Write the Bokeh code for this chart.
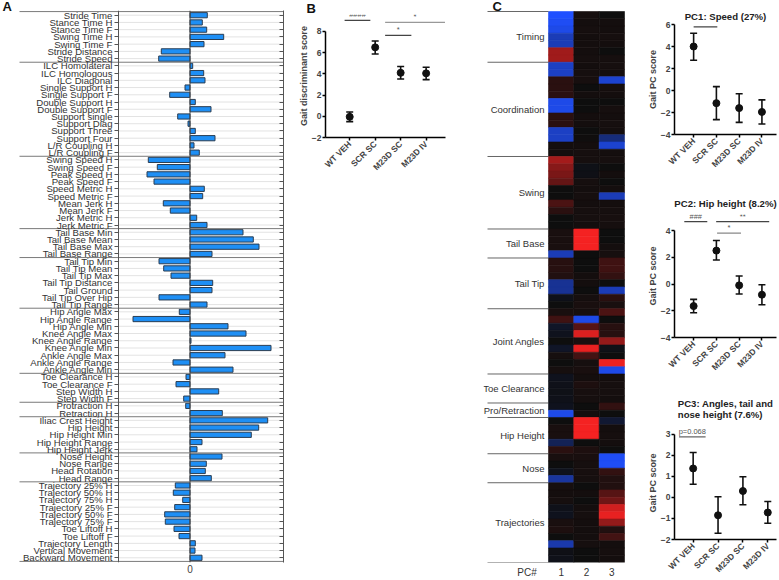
import math
from bokeh.plotting import figure
from bokeh.models import (Range1d, FactorRange, FixedTicker, CategoricalAxis, Span,
                          ColumnDataSource, Whisker, TeeHead, LinearColorMapper, Spacer)
from bokeh.layouts import row, column
from bokeh.embed import file_html
from bokeh.resources import INLINE
from bokeh.core.properties import value

FONT = "Liberation Sans"

# ---------------- data ----------------
features = [
    "Stride Time", "Stance Time H", "Stance Time F", "Swing Time H", "Swing Time F", "Stride Distance", "Stride Speed",
    "ILC Homolateral", "ILC Homologous", "ILC Diagonal", "Single Support H", "Single Support F", "Double Support H",
    "Double Support F", "Support single", "Support Diag", "Support Three", "Support Four", "L/R Coupling H", "L/R Coupling F",
    "Swing Speed H", "Swing Speed F", "Peak Speed H", "Peak Speed F", "Speed Metric H", "Speed Metric F",
    "Mean Jerk H", "Mean Jerk F", "Jerk Metric H", "Jerk Metric F",
    "Tail Base Min", "Tail Base Mean", "Tail Base Max", "Tail Base Range",
    "Tail Tip Min", "Tail Tip Mean", "Tail Tip Max", "Tail Tip Distance", "Tail Ground", "Tail Tip Over Hip", "Tail Tip Range",
    "Hip Angle Max", "Hip Angle Range", "Hip Angle Min", "Knee Angle Max", "Knee Angle Range", "Knee Angle Min",
    "Ankle Angle Max", "Ankle Angle Range", "Ankle Angle Min",
    "Toe Clearance H", "Toe Clearance F", "Step Width H", "Step Width F",
    "Protraction H", "Retraction H",
    "Iliac Crest Height", "Hip Height", "Hip Height Min", "Hip Height Range", "Hip Height Jerk",
    "Nose Height", "Nose Range", "Head Rotation", "Head Range",
    "Trajectory 25% H", "Trajectory 50% H", "Trajectory 75% H", "Trajectory 25% F", "Trajectory 50% F",
    "Trajectory 75% F", "Toe Liftoff H", "Toe Liftoff F", "Trajectory Length", "Vertical Movement", "Backward Movement",
]
bar_values = [
    1.73, 1.23, 1.67, 3.37, 1.40, -2.87, -3.13,
    0.27, 1.37, 1.50, -0.50, -2.03, 0.53, 2.10, -1.23, -0.20, 0.53, 2.50, 0.40, 0.93,
    -4.17, -3.27, -4.30, -3.60, 1.43, 1.27, -2.67, -1.97, 0.67, 1.70,
    5.30, 6.33, 6.90, 2.20,
    -3.10, -2.63, -1.90, 2.27, 2.20, -3.10, 1.70,
    -1.07, -5.70, 3.80, 5.60, 0.10, 8.10, 3.50, -1.70, 4.30,
    -0.40, -1.40, 2.87, -0.63,
    -0.43, 3.23,
    7.77, 6.87, 6.13, 1.20, 0.70,
    3.20, 1.63, 1.53, 2.13,
    -1.47, -1.67, -0.73, -1.53, -2.53, -2.47, -1.60, -1.10, 0.53, 0.50, 1.20,
]
bar_axis_min, bar_axis_max = -7.15, 9.35
sections = ["Timing", "Coordination", "Swing", "Tail Base", "Tail Tip", "Joint Angles",
            "Toe Clearance", "Pro/Retraction", "Hip Height", "Nose", "Trajectories"]
section_sizes = [7, 13, 10, 4, 7, 9, 4, 2, 5, 4, 11]

pc1_loadings = [
    -1.0, -0.95, -0.9, -0.7, -0.7, 0.6, 0.6,
    -0.75, -0.75, 0.12, 0.12, 0.12, -0.9, -0.9, 0.12, 0.12, -0.75, -0.75, 0.02, 0.02,
    0.62, 0.5, 0.45, 0.35, 0.0, 0.0, 0.25, 0.12, 0.0, 0.0,
    0.05, 0.05, 0.05, -0.7,
    0.1, 0.1, 0.08, -0.55, -0.55, -0.05, 0.0,
    0.05, 0.2, -0.1, -0.06, 0.0, -0.1, 0.03, 0.0, 0.03,
    -0.06, -0.05, -0.04, -0.05,
    -0.06, -0.9,
    0.0, 0.05, 0.05, -0.3, 0.12,
    0.05, 0.0, -0.06, -0.6,
    0.03, 0.02, 0.03, -0.05, -0.06, 0.05, 0.06, 0.0, -0.65, -0.03, -0.05,
]
pc2_loadings = [
    0.03, 0.02, 0.03, 0.02, 0.02, 0.02, 0.03,
    0.02, 0.03, 0.04, 0.0, 0.02, 0.0, 0.0, 0.02, 0.02, 0.0, 0.01, 0.02, 0.03,
    0.03, -0.04, -0.03, 0.03, 0.02, 0.03, 0.02, 0.03, 0.03, 0.02,
    0.95, 0.95, 0.95, 0.0,
    0.0, 0.0, 0.02, 0.02, 0.0, 0.03, 0.05,
    0.04, -0.9, 0.3, 0.85, 0.05, 0.9, 0.22, 0.03, 0.05,
    0.02, 0.06, 0.04, 0.03,
    0.0, 0.02,
    0.95, 0.95, 0.95, 0.0, 0.06,
    0.05, 0.03, 0.04, 0.03,
    0.0, 0.02, 0.0, 0.02, 0.03, 0.02, 0.02, 0.02, 0.03, 0.0, 0.0,
]
pc3_loadings = [
    0.0, 0.02, 0.02, 0.03, 0.02, 0.0, 0.03,
    0.03, 0.02, -0.8, 0.03, 0.02, 0.0, 0.03, 0.02, 0.03, 0.02, -0.45, -0.8, 0.02,
    0.03, 0.0, 0.02, 0.0, 0.02, -0.7, 0.02, 0.03, 0.04, 0.03,
    0.0, 0.0, 0.02, 0.04,
    0.2, 0.2, 0.15, 0.0, -0.7, 0.12, 0.05,
    0.25, 0.0, 0.1, 0.1, 0.55, -0.04, 0.0, 0.92, -0.9,
    0.02, 0.03, 0.03, 0.02,
    0.15, 0.0,
    -0.15, 0.02, 0.03, 0.02, 0.0,
    -0.95, -0.95, 0.15, 0.08,
    0.08, 0.3, 0.4, 0.8, 0.9, 0.55, 0.08, 0.22, 0.02, 0.03, 0.02,
]
pc_labels = ["1", "2", "3"]

groups = ["WT VEH", "SCR SC", "M23D SC", "M23D IV"]
B_mean = [-0.05, 6.5, 4.1, 4.05]
B_lo = [-0.5, 5.87, 3.52, 3.46]
B_hi = [0.4, 7.1, 4.7, 4.63]
B_sig_x0 = [-0.2, 1.39, 1.39]
B_sig_x1 = [0.81, 3.74, 2.42]
B_sig_y = [9.05, 8.86, 7.63]
B_sig_text = ["####", "*", "*"]
B_sig_color = ["#444444", "#999999", "#444444"]

PC1_mean = [4.0, -1.15, -1.6, -1.95]
PC1_lo = [2.75, -2.65, -2.9, -3.05]
PC1_hi = [5.2, 0.35, -0.3, -0.85]
PC1_sig_x0 = [0.0]
PC1_sig_x1 = [1.04]
PC1_sig_y = [5.78]
PC1_sig_text = ["#"]
PC1_sig_color = ["#444444"]

PC2_mean = [-1.65, 2.5, -0.1, -0.8]
PC2_lo = [-2.15, 1.8, -0.75, -1.55]
PC2_hi = [-1.15, 3.25, 0.6, -0.05]
PC2_sig_x0 = [-0.41, 0.99, 1.03]
PC2_sig_x1 = [0.6, 3.32, 2.08]
PC2_sig_y = [4.66, 4.66, 3.8]
PC2_sig_text = ["###", "**", "*"]
PC2_sig_color = ["#444444", "#444444", "#888888"]

PC3_mean = [1.37, -0.85, 0.3, -0.72]
PC3_lo = [0.62, -1.7, -0.35, -1.23]
PC3_hi = [2.13, 0.03, 0.98, -0.2]
PC3_sig_x0 = [-0.57]
PC3_sig_x1 = [0.5]
PC3_sig_y = [2.87]
PC3_sig_text = ["p=0.068"]
PC3_sig_color = ["#666666"]

assert len(features) == 76 and len(bar_values) == 76
assert len(pc1_loadings) == 76 and len(pc2_loadings) == 76 and len(pc3_loadings) == 76
assert sum(section_sizes) == 76

N = len(features)
cum = [0]
for s in section_sizes:
    cum.append(cum[-1] + s)


def panel_letter_title(p, text, offset, standoff):
    p.title.text = text
    p.title.align = "left"
    p.title.offset = offset
    p.title.standoff = standoff
    p.title.text_font = FONT
    p.title.text_font_size = "13px"
    p.title.text_font_style = "bold"
    p.title.text_color = "#111111"


# ---------------- Panel A ----------------
A_W, A_H = 287, 580
A_axis_px, A_right_px = 118, 283
a_scale = (A_right_px - A_axis_px) / (bar_axis_max - bar_axis_min)
a_left = bar_axis_min - A_axis_px / a_scale
pA = figure(width=A_W, height=A_H,
            y_range=FactorRange(factors=features[::-1], range_padding=0.15, range_padding_units="absolute"),
            x_range=Range1d(a_left, bar_axis_max), output_backend="svg", toolbar_location=None,
            min_border_left=0, min_border_right=A_W - A_right_px, min_border_top=9, min_border_bottom=15)
pA.outline_line_color = None
pA.grid.grid_line_color = None
pA.segment(x0=[bar_axis_min] * N, x1=[bar_axis_max] * N, y0=features, y1=features,
           line_color="#e3e3e3", line_width=1)
pA.hbar(y=features, right=bar_values, left=0, height=0.72, fill_color="#1e8ff5",
        line_color="#2a3d52", line_width=1)
pA.add_layout(Span(location=0, dimension="height", line_color="#444444", line_width=1))
sep_left = a_left + 19 / a_scale
pA.segment(x0=[sep_left] * len(cum), x1=[bar_axis_max] * len(cum),
           y0=[N - k for k in cum], y1=[N - k for k in cum], line_color="#7a7a7a", line_width=1)
ax = pA.yaxis[0]
ax.fixed_location = bar_axis_min
ax.major_label_text_font = FONT
ax.major_label_text_font_size = "9.6px"
ax.major_label_text_color = "#333333"
ax.major_tick_out = 4
ax.major_tick_in = 0
ax.major_label_standoff = 2
ax.axis_line_color = "#555555"
ax.major_tick_line_color = "#555555"
ra = CategoricalAxis(major_label_text_font_size="0px", major_label_text_color=None,
                     major_label_standoff=0, major_tick_in=4, major_tick_out=0,
                     minor_tick_out=0, minor_tick_in=0,
                     axis_line_color="#555555", major_tick_line_color="#555555")
pA.add_layout(ra, "right")
xa = pA.xaxis[0]
xa.ticker = FixedTicker(ticks=[0])
xa.axis_line_color = None
xa.major_tick_line_color = None
xa.minor_tick_line_color = None
xa.major_tick_out = 0
xa.minor_tick_out = 0
xa.major_label_text_font = FONT
xa.major_label_text_font_size = "10px"
xa.major_label_text_color = "#444444"
xa.major_label_standoff = 2
panel_letter_title(pA, "A", 2, -7)


# ---------------- generic score panel ----------------
def score_panel(width, height, xr, yr, yticks, ybounds, mean, lo, hi, sx0, sx1, sy, stext, scol,
                ylabel, bl, br, bt, bb, title=None, title_offset=0, title_standoff=4):
    p = figure(width=width, height=height, x_range=Range1d(*xr), y_range=Range1d(*yr),
               output_backend="svg", toolbar_location=None,
               min_border_left=bl, min_border_right=br, min_border_top=bt, min_border_bottom=bb)
    if title is not None:
        p.title.text = title
        p.title.align = "center"
        p.title.offset = title_offset
        p.title.text_font = FONT
        p.title.text_font_size = "9.6px"
        p.title.text_font_style = "bold"
        p.title.text_color = "#222222"
        p.title.standoff = title_standoff
    p.outline_line_color = None
    p.grid.grid_line_color = None
    xs = list(range(len(groups)))
    src = ColumnDataSource(dict(x=xs, m=mean, lo=lo, hi=hi))
    p.add_layout(Whisker(base="x", upper="hi", lower="lo", source=src, line_width=1.6,
                         line_color="#111111",
                         upper_head=TeeHead(size=7, line_width=1.6, line_color="#111111"),
                         lower_head=TeeHead(size=7, line_width=1.6, line_color="#111111")))
    p.scatter(x="x", y="m", source=src, size=7, color="#111111")
    sig = ColumnDataSource(dict(x0=sx0, x1=sx1, y=sy, t=stext, c=scol,
                                xm=[(a + b) / 2 for a, b in zip(sx0, sx1)]))
    p.segment(x0="x0", x1="x1", y0="y", y1="y", source=sig, line_color="c", line_width=1.3)
    p.text(x="xm", y="y", text="t", source=sig, text_font=value(FONT), text_font_size="7.5px",
           text_color="#555555", text_align="center", text_baseline="bottom", y_offset=-1)
    ya = p.yaxis[0]
    ya.ticker = FixedTicker(ticks=yticks)
    ya.bounds = ybounds
    ya.axis_label = ylabel
    ya.axis_label_text_font = FONT
    ya.axis_label_text_font_size = "9px"
    ya.axis_label_text_font_style = "bold"
    ya.axis_label_standoff = 0
    ya.major_label_text_font = FONT
    ya.major_label_text_font_size = "8.5px"
    ya.major_label_text_font_style = "bold"
    ya.major_label_standoff = 1
    ya.major_tick_out = 3
    ya.major_tick_in = 0
    ya.minor_tick_out = 0
    ya.minor_tick_line_color = None
    ya.axis_line_width = 1.5
    ya.major_tick_line_width = 1.5
    xa = p.xaxis[0]
    xa.ticker = FixedTicker(ticks=xs)
    xa.major_label_overrides = {i: g for i, g in enumerate(groups)}
    xa.major_label_orientation = math.pi / 4
    xa.major_label_text_font = FONT
    xa.major_label_text_font_size = "8.5px"
    xa.major_label_text_font_style = "bold"
    xa.major_label_standoff = 2
    xa.major_tick_out = 3
    xa.major_tick_in = 0
    xa.minor_tick_out = 0
    xa.minor_tick_line_color = None
    xa.axis_line_width = 1.5
    xa.major_tick_line_width = 1.5
    return p


pB = score_panel(196, 200, (-0.95, 3.76), (-2, 9.6), [-2, 0, 2, 4, 6, 8], (-2, 8),
                 B_mean, B_lo, B_hi, B_sig_x0, B_sig_x1, B_sig_y, B_sig_text, B_sig_color,
                 "Gait discriminant score", 38, 38, 12, 63)
panel_letter_title(pB, "B", -19, -3)

# ---------------- Panel C heatmap ----------------
BASE = (14, 14, 14)
BLUE = (32, 80, 255)
RED = (255, 35, 35)
palette = []
for i in range(255):
    t = -1 + 2 * i / 254
    tgt = BLUE if t < 0 else RED
    a = abs(t)
    rgb = tuple(int(round(b + a * (c - b))) for b, c in zip(BASE, tgt))
    palette.append("#%02x%02x%02x" % rgb)
mapper = LinearColorMapper(palette=palette, low=-1, high=1)

C_W, C_H = 147, 580
c_heat_left, c_col_w = 65, 76 / 3
c_row_h = 553 / N
pC = figure(width=C_W, height=C_H,
            x_range=Range1d(-c_heat_left / c_col_w, (C_W - c_heat_left) / c_col_w),
            y_range=Range1d(N, -1 / c_row_h),
            output_backend="svg", toolbar_location=None, y_axis_location=None,
            min_border_left=0, min_border_right=0, min_border_top=9, min_border_bottom=17)
pC.outline_line_color = None
pC.grid.grid_line_color = None
hx, hy, hv = [], [], []
for ci, col in enumerate([pc1_loadings, pc2_loadings, pc3_loadings]):
    for ri, v in enumerate(col):
        hx.append(ci + 0.5)
        hy.append(ri + 0.5)
        hv.append(v)
hsrc = ColumnDataSource(dict(x=hx, y=hy, v=hv))
pC.rect(x="x", y="y", width=1, height=1, source=hsrc,
        fill_color={"field": "v", "transform": mapper},
        line_color={"field": "v", "transform": mapper}, line_width=0.6)
sec_centers = [(cum[i] + cum[i + 1]) / 2 for i in range(len(sections))]
pC.text(x=[-4 / c_col_w] * len(sections), y=sec_centers, text=sections, text_align="right",
        text_baseline="middle", text_font=value(FONT), text_font_size="9.5px", text_color="#333333")
pC.segment(x0=[-61 / c_col_w] * len(cum), x1=[0] * len(cum), y0=cum, y1=cum,
           line_color="#666666", line_width=1)
pc_hash_x = -21.5 / c_col_w
cx = pC.xaxis[0]
cx.ticker = FixedTicker(ticks=[pc_hash_x, 0.5, 1.5, 2.5])
cx.major_label_overrides = {pc_hash_x: "PC#", 0.5: pc_labels[0], 1.5: pc_labels[1], 2.5: pc_labels[2]}
cx.axis_line_color = None
cx.major_tick_line_color = None
cx.minor_tick_line_color = None
cx.major_tick_out = 0
cx.minor_tick_out = 0
cx.major_label_text_font = FONT
cx.major_label_text_font_size = "10px"
cx.major_label_text_color = "#333333"
cx.major_label_standoff = 4
panel_letter_title(pC, "C", 9, -7)

# ---------------- PC panels ----------------
pc1 = score_panel(149, 190, (-0.84, 3.64), (-4, 6), [-4, -2, 0, 2, 4, 6], (-4, 6),
                  PC1_mean, PC1_lo, PC1_hi, PC1_sig_x0, PC1_sig_x1, PC1_sig_y, PC1_sig_text, PC1_sig_color,
                  "Gait PC score", 30, 3, 24, 56, title="PC1: Speed (27%)", title_offset=-6, title_standoff=6)
pc2 = score_panel(149, 193, (-0.84, 3.64), (-4, 5.2), [-4, -2, 0, 2, 4], (-4, 4),
                  PC2_mean, PC2_lo, PC2_hi, PC2_sig_x0, PC2_sig_x1, PC2_sig_y, PC2_sig_text, PC2_sig_color,
                  "Gait PC score", 30, 3, 23, 46, title="PC2: Hip height (8.2%)", title_offset=1, title_standoff=11)
pc3 = score_panel(149, 197, (-0.75, 3.35), (-2, 3.36), [-2, -1, 0, 1, 2, 3], (-2, 3),
                  PC3_mean, PC3_lo, PC3_hi, PC3_sig_x0, PC3_sig_x1, PC3_sig_y, PC3_sig_text, PC3_sig_color,
                  "Gait PC score", 44, 0, 43, 37, title="PC3: Angles, tail and\nnose height (7.6%)",
                  title_offset=-11, title_standoff=13)

layout = row(pA, column(pB, Spacer(width=196, height=380)), pC, column(pc1, pc2, pc3))
open("out.html", "w").write(file_html(layout, INLINE))
